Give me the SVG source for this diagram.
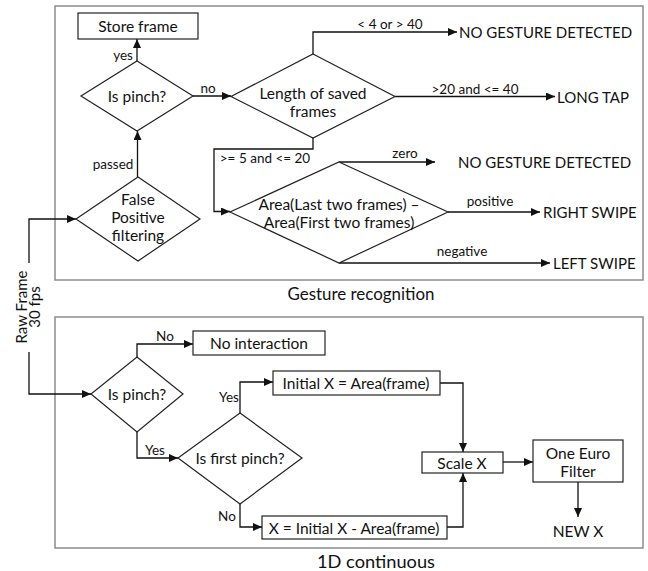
<svg xmlns="http://www.w3.org/2000/svg" width="648" height="571" viewBox="0 0 648 571">
<style>
.frame{fill:none;stroke:#8c8c8c;stroke-width:1.5}
.node{fill:#fff;stroke:#222;stroke-width:1.2}
.c{fill:none;stroke:#111;stroke-width:1.3;marker-end:url(#ah)}
text{font-family:Lato,"Open Sans","Liberation Sans",sans-serif;fill:#111;dominant-baseline:central}
.t{font-size:15.5px;text-anchor:middle}
.r{font-size:15px;text-anchor:middle}
.o{font-size:15px;text-anchor:start}
.l{font-size:13.5px;text-anchor:middle}
.cap{font-size:17.5px;text-anchor:middle}
</style>
<defs>
<marker id="ah" markerUnits="userSpaceOnUse" markerWidth="9" markerHeight="8" refX="9" refY="4" orient="auto">
<path d="M0,0 L9,4 L0,8 z" fill="#111"/>
</marker>
</defs>
<rect width="648" height="571" fill="#fff"/>
<g id="gesture-frame">
<rect class="frame" x="55" y="6" width="588" height="274"/>
<text class="cap" x="361" y="293" textLength="147" lengthAdjust="spacingAndGlyphs">Gesture recognition</text>
</g>
<g id="continuous-frame">
<rect class="frame" x="55" y="317" width="588" height="231"/>
<text class="cap" x="376" y="561" textLength="118" lengthAdjust="spacingAndGlyphs">1D continuous</text>
</g>
<g id="connectors">
<path class="c" d="M137,61 V39"/>
<path class="c" d="M193,96 H231"/>
<path class="c" d="M137.5,177 V131"/>
<path class="c" d="M313,54 V32 H457"/>
<path class="c" d="M395,96.5 H555"/>
<path class="c" d="M313,138 V149 H214 V211.5 H230"/>
<path class="c" d="M339,162 H435"/>
<path class="c" d="M448,212 H540"/>
<path class="c" d="M339,263 H550"/>
<path class="c" d="M29,263 V219 H76"/>
<path class="c" d="M29,352 V394 H91"/>
<path class="c" d="M137,357 V344 H193"/>
<path class="c" d="M137,432 V458 H178"/>
<path class="c" d="M240,413 V382 H273"/>
<path class="c" d="M440,383 H463 V452"/>
<path class="c" d="M240,504 V527 H262"/>
<path class="c" d="M447,527 H463 V473"/>
<path class="c" d="M503,462 H533"/>
<path class="c" d="M578,482 V517"/>
<text class="l" x="123" y="55">yes</text>
<text class="l" x="208" y="88">no</text>
<text class="l" x="113" y="164">passed</text>
<text class="l" x="390" y="24">&lt; 4 or &gt; 40</text>
<text class="l" x="475" y="89">&gt;20 and &lt;= 40</text>
<text class="l" x="265" y="158">&gt;= 5 and &lt;= 20</text>
<text class="l" x="405" y="153">zero</text>
<text class="l" x="490" y="201">positive</text>
<text class="l" x="462" y="251">negative</text>
<text class="l" x="165" y="336">No</text>
<text class="l" x="155" y="450">Yes</text>
<text class="l" x="229" y="397">Yes</text>
<text class="l" x="227" y="516">No</text>
</g>
<g id="raw-frame">
<text class="r" transform="translate(21,307) rotate(-90)">Raw Frame</text>
<text class="r" transform="translate(34,307) rotate(-90)">30 fps</text>
</g>
<g id="store-frame">
<rect class="node" x="78" y="13" width="120" height="26"/>
<text class="t" x="138" y="26">Store frame</text>
</g>
<g id="is-pinch-1">
<polygon class="node" points="137,61 193,96 137,131 81,96"/>
<text class="t" x="137" y="96">Is pinch?</text>
</g>
<g id="false-positive">
<polygon class="node" points="138,177 200,219 138,261 76,219"/>
<text class="t" x="138" y="199">False</text>
<text class="t" x="138" y="217">Positive</text>
<text class="t" x="138" y="235">filtering</text>
</g>
<g id="length-frames">
<polygon class="node" points="313,54 395,96.5 313,138 231,96.5"/>
<text class="t" x="313" y="93">Length of saved</text>
<text class="t" x="313" y="111">frames</text>
</g>
<g id="area-diff">
<polygon class="node" points="339,162 448,212 339,263 230,212"/>
<text class="t" x="339" y="204">Area(Last two frames) –</text>
<text class="t" x="339" y="222">Area(First two frames)</text>
</g>
<g id="out-ngd-1"><text class="o" x="459" y="32">NO GESTURE DETECTED</text></g>
<g id="out-long-tap"><text class="o" x="557" y="97">LONG TAP</text></g>
<g id="out-ngd-2"><text class="o" x="458" y="162">NO GESTURE DETECTED</text></g>
<g id="out-right-swipe"><text class="o" x="543" y="212">RIGHT SWIPE</text></g>
<g id="out-left-swipe"><text class="o" x="553" y="263">LEFT SWIPE</text></g>
<g id="is-pinch-2">
<polygon class="node" points="137,357 183,394 137,432 91,394"/>
<text class="t" x="137" y="394">Is pinch?</text>
</g>
<g id="no-interaction">
<rect class="node" x="193" y="331" width="132" height="24"/>
<text class="t" x="259" y="343">No interaction</text>
</g>
<g id="is-first-pinch">
<polygon class="node" points="240,413 302,458 240,504 178,458"/>
<text class="t" x="240" y="458">Is first pinch?</text>
</g>
<g id="initial-x">
<rect class="node" x="273" y="371" width="167" height="24"/>
<text class="t" x="356" y="383">Initial X = Area(frame)</text>
</g>
<g id="x-diff">
<rect class="node" x="262" y="516" width="185" height="23"/>
<text class="t" x="354" y="527.5">X = Initial X - Area(frame)</text>
</g>
<g id="scale-x">
<rect class="node" x="422" y="452" width="81" height="21"/>
<text class="t" x="462" y="462.5">Scale X</text>
</g>
<g id="one-euro">
<rect class="node" x="533" y="440" width="90" height="42"/>
<text class="t" x="578" y="453">One Euro</text>
<text class="t" x="578" y="471">Filter</text>
</g>
<g id="new-x"><text class="t" x="578" y="531">NEW X</text></g>
</svg>
